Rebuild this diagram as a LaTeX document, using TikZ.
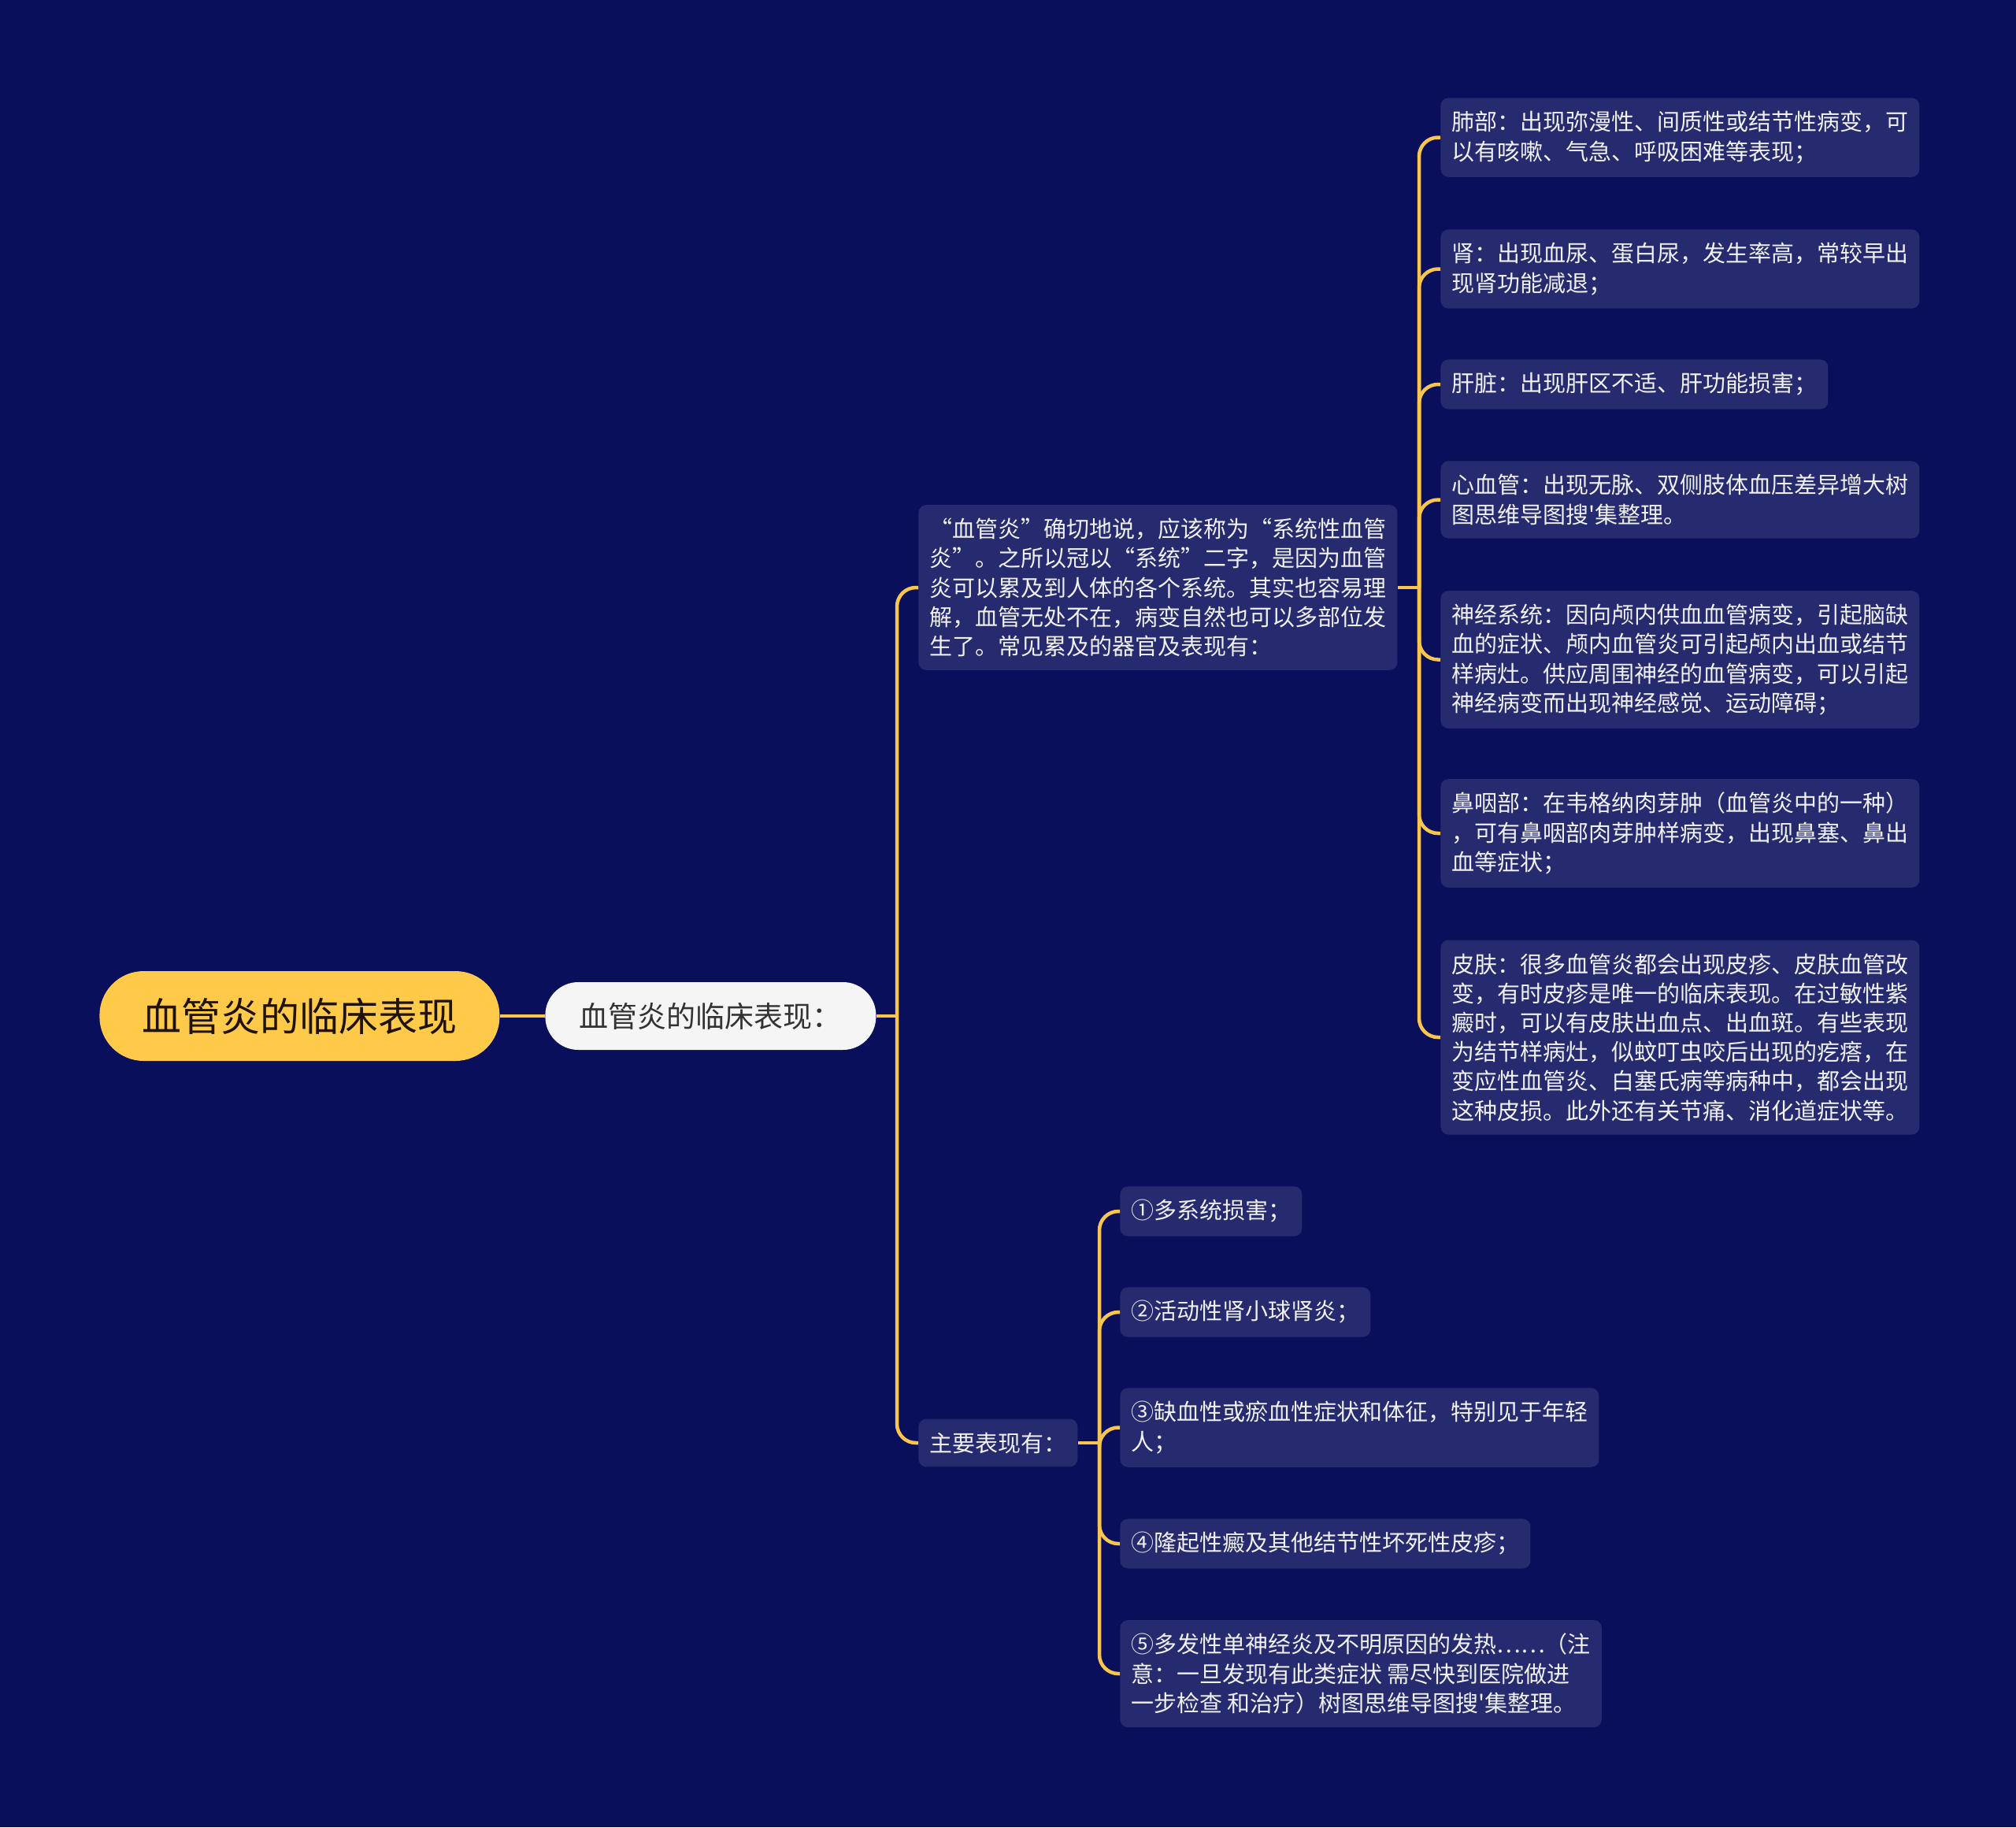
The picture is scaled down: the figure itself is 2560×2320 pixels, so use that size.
\documentclass[tikz,border=0pt]{standalone}
\usepackage{fontspec}
\newfontfamily\cjk{Noto Sans CJK SC}
\definecolor{bgnavy}{HTML}{0A0F5C}
\definecolor{leafblue}{HTML}{262B70}
\definecolor{linegold}{HTML}{F8C54E}
\definecolor{rootgold}{HTML}{FFC94A}
\definecolor{pillwhite}{HTML}{F5F5F5}

\begin{document}
\begin{tikzpicture}[
    x=0.5pt, y=-0.5pt,
    every node/.style={font=\cjk, anchor=west},
    rootnode/.style={fill=rootgold, text=black!85!brown, rounded corners=28pt,
      minimum width=254pt, minimum height=57pt, font=\cjk\fontsize{25}{30}\selectfont},
    topic/.style={fill=pillwhite, text=black!80, rounded corners=21pt,
      minimum width=210pt, minimum height=43pt, font=\cjk\fontsize{18.5}{22}\selectfont},
    leaf/.style={fill=leafblue, text=white!94!black, rounded corners=5pt, align=left,
      inner xsep=7pt, inner ysep=8.5pt, font=\cjk\fontsize{14.5}{18.6}\selectfont},
    link/.style={draw=linegold, line width=2.25pt, rounded corners=12pt}
]
\useasboundingbox[fill=bgnavy] (0,0) rectangle (2560,2320);

\node (root) [rootnode] at (126,1290) {血管炎的临床表现};
\node (sub)  [topic] at (692,1290) {血管炎的临床表现：};

\node (intro) [leaf] at (1166,746)
  {“血管炎”确切地说，应该称为“系统性血管\\炎”。之所以冠以“系统”二字，是因为血管\\炎可以累及到人体的各个系统。其实也容易理\\解，血管无处不在，病变自然也可以多部位发\\生了。常见累及的器官及表现有：};
\node (main) [leaf] at (1166,1832) {主要表现有：};

% organs
\node (lung)   [leaf] at (1829,174.5) {肺部：出现弥漫性、间质性或结节性病变，可\\以有咳嗽、气急、呼吸困难等表现；};
\node (kidney) [leaf] at (1829,341.5) {肾：出现血尿、蛋白尿，发生率高，常较早出\\现肾功能减退；};
\node (liver)  [leaf] at (1829,488) {肝脏：出现肝区不适、肝功能损害；};
\node (heart)  [leaf] at (1829,634.5) {心血管：出现无脉、双侧肢体血压差异增大树\\图思维导图搜'集整理。};
\node (nerve)  [leaf] at (1829,837.5) {神经系统：因向颅内供血血管病变，引起脑缺\\血的症状、颅内血管炎可引起颅内出血或结节\\样病灶。供应周围神经的血管病变，可以引起\\神经病变而出现神经感觉、运动障碍；};
\node (nose)   [leaf] at (1829,1058) {鼻咽部：在韦格纳肉芽肿（血管炎中的一种）\\，可有鼻咽部肉芽肿样病变，出现鼻塞、鼻出\\血等症状；};
\node (skin)   [leaf] at (1829,1317) {皮肤：很多血管炎都会出现皮疹、皮肤血管改\\变，有时皮疹是唯一的临床表现。在过敏性紫\\癜时，可以有皮肤出血点、出血斑。有些表现\\为结节样病灶，似蚊叮虫咬后出现的疙瘩，在\\变应性血管炎、白塞氏病等病种中，都会出现\\这种皮损。此外还有关节痛、消化道症状等。};

% main signs
\node (m1) [leaf] at (1422,1538) {①多系统损害；};
\node (m2) [leaf] at (1422,1666) {②活动性肾小球肾炎；};
\node (m3) [leaf] at (1422,1812.5) {③缺血性或瘀血性症状和体征，特别见于年轻\\人；};
\node (m4) [leaf] at (1422,1960) {④隆起性癜及其他结节性坏死性皮疹；};
\node (m5) [leaf] at (1422,2125) {⑤多发性单神经炎及不明原因的发热……（注\\意：一旦发现有此类症状 需尽快到医院做进\\一步检查 和治疗）树图思维导图搜'集整理。};

\coordinate (j1) at (1139,1290);
\coordinate (j2) at (1802,746);
\coordinate (j3) at (1396,1832);

\draw [link] (root.east) -- (sub.west);
\draw [link] (sub.east) -- (j1);
\draw [link] (j1) |- (intro.west);
\draw [link] (j1) |- (main.west);

\draw [link] (intro.east) -- (j2);
\foreach \n in {lung,kidney,liver,heart,nerve,nose,skin}
  \draw [link] (j2) |- (\n.west);

\draw [link] (main.east) -- (j3);
\foreach \n in {m1,m2,m3,m4,m5}
  \draw [link] (j3) |- (\n.west);
\end{tikzpicture}
\end{document}
